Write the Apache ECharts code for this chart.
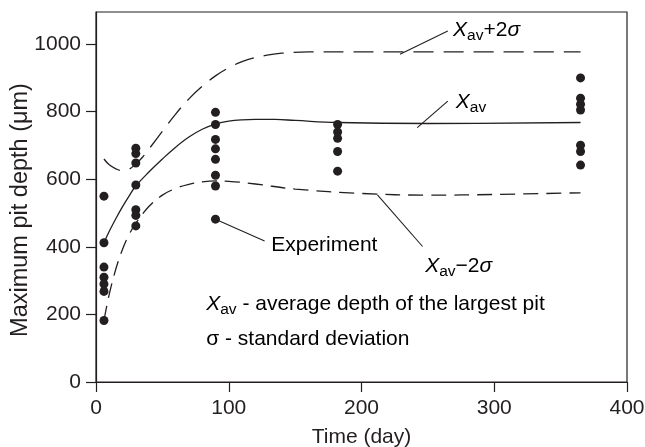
<!DOCTYPE html>
<html>
<head>
<meta charset="utf-8">
<script src="https://cdn.jsdelivr.net/npm/echarts@6/dist/echarts.min.js"></script>
<style>
  html, body { margin: 0; padding: 0; background: #fff; }
  #chart { width: 645px; height: 447px; }
</style>
</head>
<body>
<div id="chart"></div>
<script>
const INK = '#231f20';
const FONT = '"Liberation Sans", Arial, Helvetica, sans-serif';

// axis ticks
const xTicks = [0, 100, 200, 300, 400];
const yTicks = [0, 200, 400, 600, 800, 1000];

// measured maximum pit depths (µm) per exposure time (days)
const exposureDays = [6, 30, 90, 182, 365];
const depthsDay6 = [550, 412, 340, 310, 290, 268, 182];
const depthsDay30 = [692, 676, 648, 583, 510, 493, 462];
const depthsDay90 = [798, 762, 718, 690, 659, 612, 580, 482];
const depthsDay182 = [762, 740, 721, 682, 624];
const depthsDay365 = [900, 840, 822, 805, 701, 682, 642];

// fitted average depth X_av and the ±2σ bounds, [day, µm]
const meanCurve = [[6, 412], [10, 446], [15, 484], [20, 519], [25, 551], [30, 580], [40, 622],
  [50, 660], [60, 695], [70, 725], [80, 748], [90, 763], [100, 772], [110, 776], [120, 777],
  [135, 777], [150, 774], [182, 768], [250, 765], [365, 768]];
const upperCurve = [[6, 660], [10, 643], [15, 631], [20, 625], [25, 630], [30, 645], [35, 665],
  [40, 690], [50, 742], [60, 793], [70, 838], [80, 875], [90, 906], [100, 930], [110, 948],
  [120, 960], [130, 968], [140, 973], [160, 977], [200, 977], [365, 977]];
const lowerCurve = [[6, 182], [10, 260], [15, 335], [20, 393], [25, 437], [30, 470], [40, 520],
  [50, 553], [60, 573], [70, 585], [80, 592], [90, 595], [100, 594], [120, 586], [150, 571],
  [200, 558], [250, 553], [300, 555], [365, 560]];

// leader lines from each label to the curve it names, [day, µm]
const leaderPlus = [[229, 970], [265, 1039]];
const leaderMean = [[242, 753], [265, 831]];
const leaderExp = [[90, 482], [127, 417]];
const leaderMinus = [[212, 554], [246, 401]];

const depthGroups = [depthsDay6, depthsDay30, depthsDay90, depthsDay182, depthsDay365];
const points = [];
depthGroups.forEach((g, i) => g.forEach(v => points.push([exposureDays[i], v])));

const chart = echarts.init(document.getElementById('chart'), null, { renderer: 'canvas' });

function leader(data) {
  return {
    type: 'line', data: data, symbol: 'none', silent: true, z: 1,
    lineStyle: { color: INK, width: 1.1 }
  };
}

function curve(data, dash) {
  return {
    type: 'line', data: data, smooth: 0.4, symbol: 'none', z: 2,
    lineStyle: { color: INK, width: 1.3, type: dash || 'solid' }
  };
}

const axisText = { color: INK, fontSize: 21, fontFamily: FONT };

chart.setOption({
  animation: false,
  backgroundColor: '#fff',
  grid: {
    left: 96, right: 18, top: 12, bottom: 65, outerBoundsMode: 'none', containLabel: false,
    show: true, borderColor: INK, borderWidth: 1.2
  },
  xAxis: {
    type: 'value', min: 0, max: 400, interval: 100,
    name: 'Time (day)', nameLocation: 'middle', nameGap: 45, nameMoveOverlap: false,
    nameTextStyle: axisText,
    axisLine: { show: true, lineStyle: { color: INK, width: 1.2 } },
    axisTick: { show: true, inside: false, length: 10, lineStyle: { color: INK, width: 1.2 } },
    axisLabel: Object.assign({ margin: 16, formatter: v => String(v) }, axisText),
    splitLine: { show: false }
  },
  yAxis: {
    type: 'value', min: 0, max: 1095,
    name: 'Maximum pit depth (μm)', nameLocation: 'middle', nameGap: 63, nameMoveOverlap: false,
    nameTextStyle: { color: INK, fontSize: 23.5, fontFamily: FONT, padding: [0, 26, 0, 0] },
    axisLine: { show: true, lineStyle: { color: INK, width: 1.2 } },
    axisTick: { show: true, inside: false, length: 10, customValues: yTicks, lineStyle: { color: INK, width: 1.2 } },
    axisLabel: Object.assign({ margin: 15, customValues: yTicks, formatter: v => String(v) }, axisText),
    splitLine: { show: false }
  },
  series: [
    curve(meanCurve),
    curve(upperCurve, [20, 10]),
    curve(lowerCurve, [15, 8]),
    leader(leaderPlus), leader(leaderMean), leader(leaderExp), leader(leaderMinus),
    {
      type: 'scatter', data: points, symbol: 'circle', symbolSize: 9, z: 3,
      itemStyle: { color: INK, opacity: 1 }
    }
  ]
});

// annotation labels, anchored in data space (left edge, vertical middle)
const rich = {
  x: { fontFamily: FONT, fontSize: 21, fontStyle: 'italic', color: INK, lineHeight: 24, verticalAlign: 'top' },
  sub: { fontFamily: FONT, fontSize: 15.5, color: INK, lineHeight: 14, verticalAlign: 'bottom' },
  t: { fontFamily: FONT, fontSize: 21, color: INK, lineHeight: 24, verticalAlign: 'top' },
  s: { fontFamily: FONT, fontSize: 21, fontStyle: 'italic', color: INK, lineHeight: 24, verticalAlign: 'top' }
};
const labels = [
  { at: [269, 1038], text: '{x|X}{sub|av}{t|+2}{s|σ}' },
  { at: [271, 825], text: '{x|X}{sub|av}' },
  { at: [132, 401], text: '{t|Experiment}' },
  { at: [248, 339], text: '{x|X}{sub|av}{t|−2}{s|σ}' },
  { at: [83, 226], text: '{x|X}{sub|av}{t| - average depth of the largest pit}' },
  { at: [83, 123], text: '{t|σ - standard deviation}' }
];
chart.setOption({
  graphic: labels.map(l => {
    const p = chart.convertToPixel({ gridIndex: 0 }, l.at);
    return {
      type: 'text', x: p[0], y: p[1], silent: true, z: 10,
      style: { text: l.text, rich: rich, verticalAlign: 'middle', align: 'left' }
    };
  })
});
</script>
</body>
</html>
